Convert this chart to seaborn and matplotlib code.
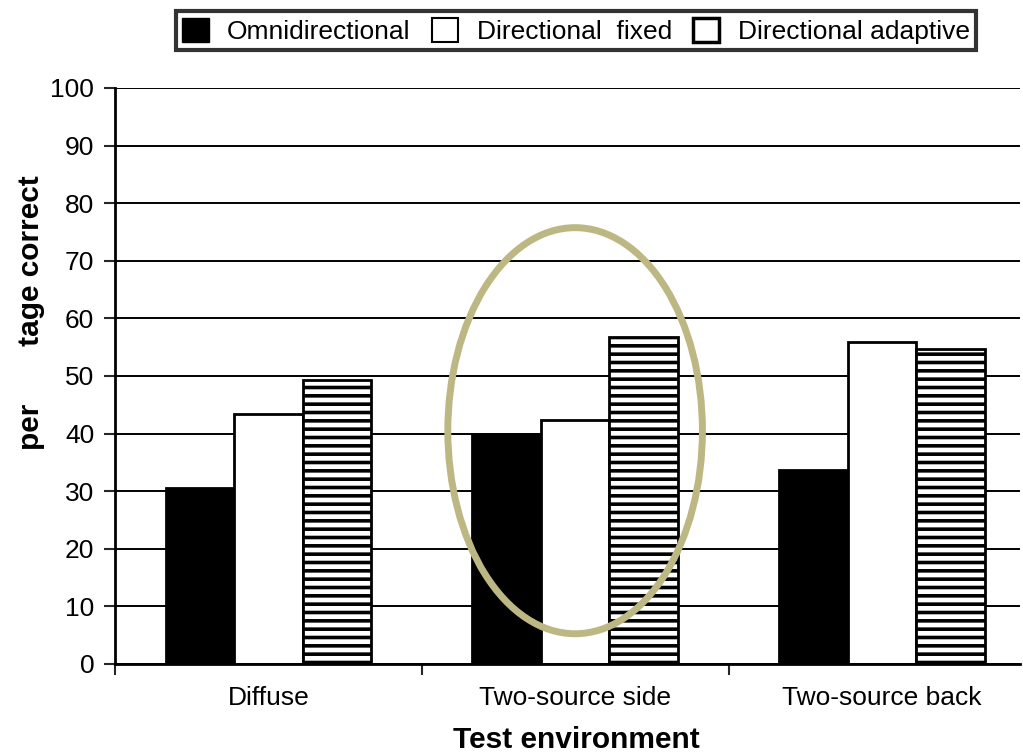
import pandas as pd
import matplotlib.pyplot as plt
import seaborn as sns
from matplotlib.patches import Ellipse, Patch

environments = ['Diffuse', 'Two-source side', 'Two-source back']
conditions = ['Omnidirectional', 'Directional  fixed', 'Directional adaptive']
omni = [30.5, 39.9, 33.6]
fixed = [43.4, 42.4, 55.9]
adaptive = [49.3, 56.8, 54.7]

df = pd.DataFrame({
    'environment': environments * 3,
    'condition': [conditions[0]] * 3 + [conditions[1]] * 3 + [conditions[2]] * 3,
    'value': omni + fixed + adaptive,
})

sns.set_style('white')
plt.rcParams['font.family'] = ['Liberation Sans', 'DejaVu Sans']
plt.rcParams['hatch.linewidth'] = 2.6
plt.rcParams['text.color'] = 'black'

fig = plt.figure(figsize=(10.23, 7.54), dpi=100)
ax = fig.add_axes([0.1124, 0.1194, 0.8846, 0.7639])

palette = {conditions[0]: 'black', conditions[1]: 'white', conditions[2]: 'white'}
sns.barplot(data=df, x='environment', y='value', hue='condition', palette=palette,
            width=0.67, edgecolor='black', linewidth=2, saturation=1, ax=ax, legend=False)

# hatch the adaptive bars
for bar in ax.containers[2]:
    bar.set_hatch('--')

ax.set_xticks([-0.5, 0.5, 1.5], minor=True)
ax.set_ylim(0, 100)
ax.set_xlim(-0.5, 2.45)
ax.set_yticks(range(0, 101, 10))
ax.yaxis.grid(True, color='black', linewidth=1.4)
ax.set_axisbelow(True)
for s in ['top', 'right']:
    ax.spines[s].set_visible(False)
for s in ['left', 'bottom']:
    ax.spines[s].set_color('black')
    ax.spines[s].set_linewidth(2)
ax.tick_params(axis='y', left=True, length=8, width=1.5, labelsize=19, pad=7,
               labelcolor='black')
ax.tick_params(axis='x', bottom=False, labelsize=19, pad=12, labelcolor='black')
ax.tick_params(axis='x', which='minor', bottom=True, length=8, width=1.5)
ax.set_xlabel('')
ax.set_ylabel('')

fig.text(0.563, 0.018, 'Test environment', fontsize=21.5, fontweight='bold',
         ha='center', va='center')
fig.text(0.030, 0.585, 'per       tage correct', fontsize=21.5, fontweight='bold',
         rotation=90, ha='center', va='center')

# highlight ellipse
ax.add_patch(Ellipse((1.0, 40.5), 0.83, 70.5, fill=False, edgecolor='#bdb883',
                     linewidth=5, zorder=5, clip_on=False))

handles = [Patch(facecolor='black', edgecolor='black'),
           Patch(facecolor='white', edgecolor='black', linewidth=1.5),
           Patch(facecolor='white', edgecolor='black', linewidth=2.5)]
leg = fig.legend(handles, conditions, loc='center', bbox_to_anchor=(0.563, 0.959),
                 ncol=3, fontsize=19, frameon=True, fancybox=False, edgecolor='black',
                 handlelength=1.0, handleheight=1.0, handletextpad=0.7, columnspacing=0.8,
                 borderpad=0.25)
leg.get_frame().set_linewidth(3)

fig.savefig('out.png', dpi=100)
